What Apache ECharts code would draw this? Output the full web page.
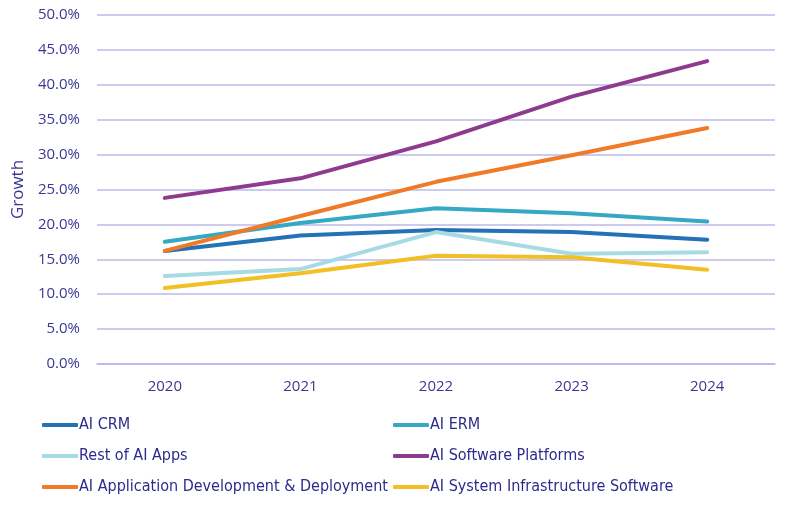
<!DOCTYPE html>
<html><head><meta charset="utf-8">
<script src="https://cdn.jsdelivr.net/npm/echarts@6/dist/echarts.min.js"></script>
<style>html,body{margin:0;padding:0;background:#fff}#c{width:790px;height:505px}</style>
</head><body><div id="c"></div>
<script>
const years = ['2020','2021','2022','2023','2024'];
const aiCRM = [16.2, 18.4, 19.2, 18.9, 17.8];
const aiERM = [17.5, 20.2, 22.3, 21.6, 20.4];
const restAIApps = [12.6, 13.6, 18.9, 15.8, 16.0];
const aiSoftwarePlatforms = [23.8, 26.6, 31.9, 38.3, 43.4];
const aiAppDev = [16.2, 21.2, 26.1, 29.9, 33.8];
const aiSysInfra = [10.9, 13.0, 15.5, 15.3, 13.5];
const yTicks = [0, 5, 10, 15, 20, 25, 30, 35, 40, 45, 50];

const navy = '#3b3794';
const font = 'Open Sans';
const legendFont = '"DejaVu Sans Condensed", "Open Sans", sans-serif';
const seriesDefs = [
  ['AI CRM', aiCRM, '#2471b5'],
  ['AI ERM', aiERM, '#35a9c4'],
  ['Rest of AI Apps', restAIApps, '#a6dbe4'],
  ['AI Software Platforms', aiSoftwarePlatforms, '#8e3a8f'],
  ['AI Application Development & Deployment', aiAppDev, '#f07a28'],
  ['AI System Infrastructure Software', aiSysInfra, '#f2bf24']
];
const chart = echarts.init(document.getElementById('c'));
const legendCommon = {
  orient: 'vertical', itemGap: 15, itemWidth: 36, itemHeight: 4, padding: 0,
  icon: 'roundRect',
  textStyle: { color: '#2e2a8c', fontFamily: legendFont, fontSize: 16, padding: [0,0,0,-4] }
};
chart.setOption({
  animation: false,
  grid: { left: 97, right: 15, top: 15, bottom: 141 },
  legend: [
    Object.assign({ left: 42, top: 417, data: [seriesDefs[0][0], seriesDefs[2][0], seriesDefs[4][0]] }, legendCommon),
    Object.assign({ left: 393, top: 417, data: [seriesDefs[1][0], seriesDefs[3][0], seriesDefs[5][0]] }, legendCommon)
  ],
  xAxis: {
    type: 'category', data: years, boundaryGap: true,
    axisLine: { lineStyle: { color: '#bcb8e8', width: 1.5 } },
    axisTick: { show: false },
    axisLabel: { color: navy, fontFamily: font, fontSize: 15, margin: 15 }
  },
  yAxis: {
    type: 'value', min: 0, max: 50, interval: 5,
    name: 'Growth', nameLocation: 'middle', nameGap: 66, nameRotate: 90,
    nameTextStyle: { color: navy, fontFamily: font, fontSize: 17 },
    axisLine: { show: false }, axisTick: { show: false },
    splitLine: { lineStyle: { color: '#bcb8e8', width: 1.5 } },
    axisLabel: { color: navy, fontFamily: font, fontSize: 15, margin: 17,
      formatter: v => yTicks.includes(v) ? v.toFixed(1) + '%' : '' }
  },
  series: seriesDefs.map(([name, data, color]) => ({
    name, type: 'line', data, showSymbol: false, symbol: 'none',
    lineStyle: { color, width: 4, cap: 'round', join: 'round' },
    itemStyle: { color }
  }))
});
</script></body></html>
